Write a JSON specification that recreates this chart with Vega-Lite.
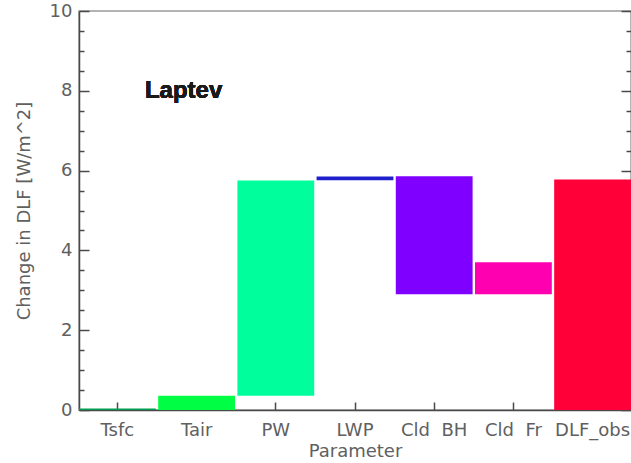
{
  "$schema": "https://vega.github.io/schema/vega-lite/v6.json",
  "autosize": "none",
  "width": 552,
  "height": 399,
  "padding": {"left": 79, "top": 11, "right": 0, "bottom": 53},
  "background": "white",
  "config": {
    "view": {"stroke": "#9a9a9a", "strokeWidth": 1.5},
    "axis": {
      "labelFont": "DejaVu Sans",
      "titleFont": "DejaVu Sans",
      "labelColor": "#606060",
      "titleColor": "#606060",
      "labelFontSize": 18,
      "titleFontSize": 18,
      "titleFontWeight": "normal",
      "domainColor": "#4a4a4a",
      "tickColor": "#4a4a4a",
      "domainWidth": 1.5,
      "tickWidth": 1.5,
      "grid": false,
      "zindex": 1
    }
  },
  "data": {
    "values": [
      {"param": "Tsfc", "lo": 0, "hi": 0.04},
      {"param": "Tair", "lo": 0, "hi": 0.36},
      {"param": "PW", "lo": 0.36, "hi": 5.75},
      {"param": "LWP", "lo": 5.76, "hi": 5.85},
      {"param": "Cld  BH", "lo": 2.9, "hi": 5.86},
      {"param": "Cld  Fr", "lo": 2.9, "hi": 3.7},
      {"param": "DLF_obs", "lo": 0, "hi": 5.78}
    ]
  },
  "layer": [
    {
      "mark": {"type": "bar"},
      "encoding": {
        "x": {
          "field": "param",
          "type": "nominal",
          "sort": null,
          "scale": {"paddingInner": 0.03, "paddingOuter": 0},
          "axis": {
            "orient": "bottom",
            "title": "Parameter",
            "labelAngle": 0,
            "ticks": false,
            "tickSize": 0,
            "labelPadding": 11,
            "titlePadding": 3,
            "labelExpr": "replace(datum.label, '  ', '\u00a0\u00a0')"
          }
        },
        "y": {
          "field": "lo",
          "type": "quantitative",
          "scale": {"domain": [0, 10], "nice": false, "zero": false},
          "axis": {
            "orient": "left",
            "title": "Change in DLF [W/m^2]",
            "values": [0, 2, 4, 6, 8, 10],
            "format": "d",
            "ticks": false,
            "tickSize": 0,
            "labelPadding": 7,
            "titlePadding": 16
          }
        },
        "y2": {"field": "hi"},
        "color": {
          "field": "param",
          "type": "nominal",
          "sort": null,
          "legend": null,
          "scale": {
            "domain": ["Tsfc", "Tair", "PW", "LWP", "Cld  BH", "Cld  Fr", "DLF_obs"],
            "range": ["#00a050", "#00ff44", "#00ff9c", "#1f1fcc", "#8000ff", "#ff00b0", "#ff0038"]
          }
        }
      }
    },
    {
      "mark": {"type": "text", "font": "Liberation Sans", "fontWeight": "bold", "fontSize": 24, "color": "#1a1a1a", "align": "center", "baseline": "middle", "dx": -13},
      "encoding": {
        "x": {
          "datum": "Tair",
          "type": "nominal",
          "axis": {
            "orient": "top",
            "offset": -399,
            "title": null,
            "labels": false,
            "domain": false,
            "tickSize": 8
          }
        },
        "y": {
          "datum": 8,
          "type": "quantitative",
          "axis": {
            "orient": "right",
            "offset": -552,
            "title": null,
            "labels": false,
            "domain": false,
            "values": [0, 2, 4, 6, 8, 10],
            "tickSize": 10
          }
        },
        "text": {"value": "Laptev"}
      }
    },
    {
      "mark": {"type": "point", "opacity": 0},
      "encoding": {
        "y": {
          "field": "lo",
          "type": "quantitative",
          "axis": {
            "orient": "right",
            "offset": -552,
            "title": null,
            "labels": false,
            "domain": false,
            "values": [0.5, 1, 1.5, 2.5, 3, 3.5, 4.5, 5, 5.5, 6.5, 7, 7.5, 8.5, 9, 9.5],
            "tickSize": 5
          }
        }
      }
    },
    {
      "mark": {"type": "point", "opacity": 0},
      "encoding": {
        "y": {
          "field": "hi",
          "type": "quantitative",
          "axis": {
            "orient": "left",
            "offset": -552,
            "title": null,
            "labels": false,
            "domain": false,
            "values": [0, 2, 4, 6, 8, 10],
            "tickSize": 10
          }
        }
      }
    },
    {
      "mark": {"type": "point", "opacity": 0},
      "encoding": {
        "y": {
          "field": "lo",
          "type": "quantitative",
          "axis": {
            "orient": "left",
            "offset": -552,
            "title": null,
            "labels": false,
            "domain": false,
            "values": [0.5, 1, 1.5, 2.5, 3, 3.5, 4.5, 5, 5.5, 6.5, 7, 7.5, 8.5, 9, 9.5],
            "tickSize": 5
          }
        }
      }
    }
  ],
  "resolve": {"axis": {"x": "independent", "y": "independent"}}
}
